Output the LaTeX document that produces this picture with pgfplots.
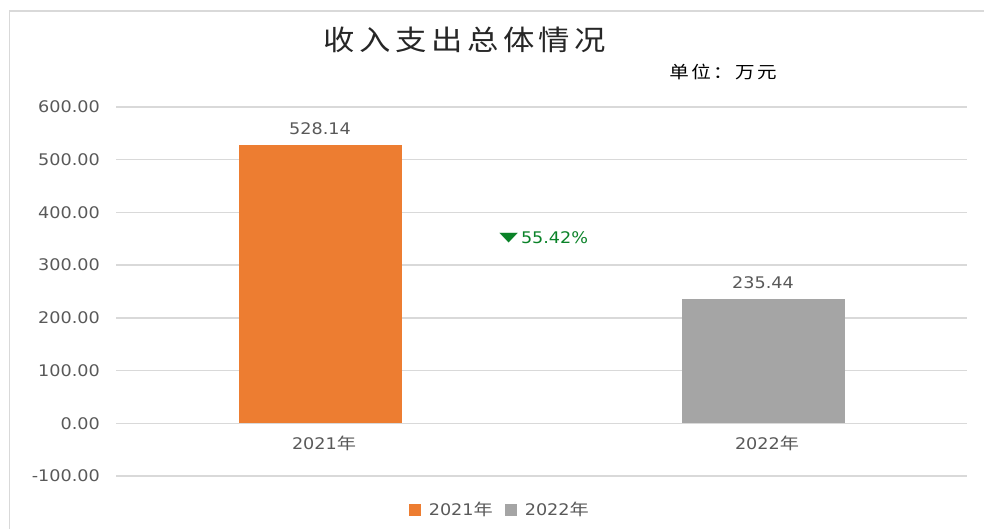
\documentclass[border=0pt]{standalone}
\usepackage{pgfplots}
\pgfplotsset{compat=1.18}
\usepackage{fontspec}
\setmainfont{DejaVu Sans}[FakeStretch=1.1]
\newfontfamily\cjk{Noto Sans CJK SC}[FakeStretch=1.2]
\newfontfamily\cjkt{Noto Sans CJK SC}[FakeStretch=1.12, LetterSpace=16]
\newfontfamily\cjku{Noto Sans CJK SC}[FakeStretch=1.15, LetterSpace=14]
\definecolor{c1}{HTML}{ED7D31}
\definecolor{c2}{HTML}{A5A5A5}
\definecolor{txt}{HTML}{595959}
\definecolor{grd}{HTML}{D9D9D9}
\definecolor{grn}{HTML}{0A8228}
\begin{document}
\begin{tikzpicture}[x=1pt,y=1pt]
\useasboundingbox (0,0) rectangle (984,529);
\draw[grd, line width=1.5pt] (9.5,0) -- (9.5,518) -- (984,518);
\node[font=\cjkt\fontsize{28}{32}\selectfont, text=black!85] at (465,489) {收入支出总体情况};
\node[font=\cjku\fontsize{17}{20}\selectfont, text=black] at (723,457) {单位：万元};
\begin{axis}[
  at={(116pt,53pt)}, anchor=south west,
  width=851pt, height=369pt, scale only axis,
  xmin=-0.4605, xmax=1.4605, ymin=-100, ymax=600,
  ytick={-100,0,100,200,300,400,500,600},
  xtick={0,1}, xticklabels={2021{\cjk 年},2022{\cjk 年}},
  ymajorgrids, grid style={grd, line width=1.3pt},
  axis line style={draw=none}, major tick length=0pt,
  /pgf/number format/assume math mode=true,
  /pgf/number format/fixed, /pgf/number format/fixed zerofill,
  /pgf/number format/precision=2, /pgf/number format/1000 sep={},
  tick label style={font=\fontsize{16}{19}\selectfont, text=txt},
  yticklabel style={anchor=east, inner sep=0pt, xshift=-16pt},
  xticklabel style={anchor=center, yshift=33pt, xshift=4pt},
  ybar, bar width=163pt,
  nodes near coords,
  nodes near coords style={font=\fontsize{16}{19}\selectfont, text=txt, yshift=7pt},
  legend style={at={(0.451,-0.092)}, anchor=center, draw=none, fill=none, legend columns=2,
    font=\fontsize{16}{19}\selectfont, text=txt,
    /tikz/every odd column/.append style={column sep=6pt},
    /tikz/every even column/.append style={column sep=10pt}},
  clip=false,
]
\addplot[fill=c1, draw=none, bar shift=0pt,
  legend image code/.code={\fill[c1] (0pt,-6pt) rectangle (12pt,6pt);}] coordinates {(0,528.14)};
\addplot[fill=c2, draw=none, bar shift=0pt,
  legend image code/.code={\fill[c2] (0pt,-6pt) rectangle (12pt,6pt);}] coordinates {(1,235.44)};
\legend{2021{\cjk 年},2022{\cjk 年}}
\node[text=grn, font=\fontsize{16}{19}\selectfont] at (axis cs:0.505,353) {\raisebox{2pt}{\scalebox{1.3}[0.75]{\fontsize{17}{20}\selectfont ▼}}\hspace{3pt}55.42\%};
\end{axis}
\end{tikzpicture}
\end{document}
